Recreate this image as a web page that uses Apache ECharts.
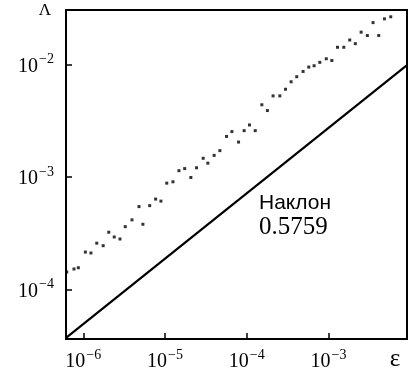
<!DOCTYPE html>
<html>
<head>
<meta charset="utf-8">
<script src="https://cdn.jsdelivr.net/npm/echarts@6.0.0/dist/echarts.min.js"></script>
<style>
    html, body { margin: 0; padding: 0; background: #fff; }
    #box { width: 411px; height: 372px; }
</style>
</head>
<body>
<div id="box"></div>
<script>
// измеренные точки (ε, Λ)
var epsData = [
    6.27e-7, 7.69e-7, 8.69e-7, 1.06e-6, 1.24e-6, 1.46e-6, 1.75e-6, 2.05e-6, 2.39e-6, 2.81e-6,
    3.26e-6, 3.94e-6, 4.80e-6, 5.36e-6, 6.49e-6, 7.67e-6, 8.91e-6, 1.05e-5, 1.25e-5, 1.48e-5,
    1.74e-5, 2.07e-5, 2.43e-5, 2.93e-5, 3.34e-5, 3.99e-5, 4.69e-5, 5.66e-5, 6.58e-5, 7.94e-5,
    9.29e-5, 1.08e-4, 1.27e-4, 1.53e-4, 1.79e-4, 2.10e-4, 2.54e-4, 2.98e-4, 3.49e-4, 4.09e-4,
    4.89e-4, 5.74e-4, 6.67e-4, 7.83e-4, 9.40e-4, 1.10e-3, 1.29e-3, 1.54e-3, 1.82e-3, 2.13e-3,
    2.51e-3, 2.99e-3, 3.51e-3, 4.12e-3, 4.84e-3, 5.78e-3
];
var lambdaData = [
    1.43e-4, 1.52e-4, 1.56e-4, 2.15e-4, 2.11e-4, 2.58e-4, 2.45e-4, 3.23e-4, 2.93e-4, 2.81e-4,
    3.62e-4, 4.16e-4, 5.46e-4, 3.80e-4, 5.57e-4, 6.37e-4, 6.11e-4, 8.83e-4, 9.08e-4, 1.14e-3,
    1.19e-3, 9.91e-4, 1.21e-3, 1.47e-3, 1.33e-3, 1.56e-3, 1.72e-3, 2.30e-3, 2.54e-3, 2.05e-3,
    2.59e-3, 2.91e-3, 2.59e-3, 4.40e-3, 3.91e-3, 5.28e-3, 5.28e-3, 6.05e-3, 7.05e-3, 7.82e-3,
    8.71e-3, 9.53e-3, 9.79e-3, 1.05e-2, 1.13e-2, 1.09e-2, 1.43e-2, 1.43e-2, 1.66e-2, 1.54e-2,
    1.95e-2, 1.82e-2, 2.37e-2, 1.82e-2, 2.56e-2, 2.67e-2
];
// прямая с наклоном 0.5759
var fitEps = [6.14e-7, 9.14e-3];
var fitLambda = [3.70e-5, 9.92e-3];

var xTicks = [1e-6, 1e-5, 1e-4, 1e-3];
var yTicks = [1e-4, 1e-3, 1e-2];
var xRange = [6.14e-7, 9.14e-3];
var yRange = [3.62e-5, 3.07e-2];

var xName = 'ε';
var yName = 'Λ';
var slopeTitle = 'Наклон';
var slopeValue = '0.5759';

var serif = 'Liberation Serif';
var sans = 'Liberation Sans';

function powLabel(v) {
    var e = Math.round(Math.log10(v));
    return '{a|10}{b|' + (e < 0 ? '\u2212' : '') + Math.abs(e) + '}';
}

var labelRich = {
    a: { fontSize: 20, lineHeight: 24, fontFamily: serif, color: '#000', verticalAlign: 'bottom' },
    b: { fontSize: 14, lineHeight: 14, fontFamily: serif, color: '#000', verticalAlign: 'top', padding: [0, 0, 0, 1] }
};

function pairs(xs, ys) {
    return xs.map(function (x, i) { return [x, ys[i]]; });
}

var chart = echarts.init(document.getElementById('box'), null, { renderer: 'canvas' });

var option = {
    animation: false,
    grid: {
        left: 66,
        right: 4,
        top: 10,
        bottom: 33,
        show: true,
        borderColor: '#000',
        borderWidth: 2,
        backgroundColor: 'transparent'
    },
    xAxis: {
        type: 'log',
        logBase: 10,
        min: xRange[0],
        max: xRange[1],
        axisLine: { show: true, onZero: false, lineStyle: { color: '#000', width: 2 } },
        axisTick: { show: true, inside: true, length: 6, customValues: xTicks, lineStyle: { color: '#000', width: 1.5 } },
        axisLabel: { margin: 9, customValues: xTicks, formatter: powLabel, rich: labelRich },
        splitLine: { show: false },
        minorTick: { show: false }
    },
    yAxis: {
        type: 'log',
        logBase: 10,
        min: yRange[0],
        max: yRange[1],
        axisLine: { show: true, onZero: false, lineStyle: { color: '#000', width: 2 } },
        axisTick: { show: true, inside: true, length: 6, customValues: yTicks, lineStyle: { color: '#000', width: 1.5 } },
        axisLabel: { margin: 12, customValues: yTicks, formatter: powLabel, rich: labelRich },
        splitLine: { show: false },
        minorTick: { show: false }
    },
    graphic: [
        {
            type: 'text',
            x: 45,
            y: 11,
            style: { text: yName, fontFamily: serif, fontSize: 17, fill: '#000', align: 'center', verticalAlign: 'middle' }
        },
        {
            type: 'text',
            x: 395,
            y: 359,
            style: { text: xName, fontFamily: serif, fontSize: 25, fill: '#000', align: 'center', verticalAlign: 'middle' }
        },
        {
            type: 'text',
            x: 259,
            y: 203,
            style: { text: slopeTitle, fontFamily: sans, fontSize: 21, fill: '#000', align: 'left', verticalAlign: 'middle' }
        },
        {
            type: 'text',
            x: 259,
            y: 227,
            style: { text: slopeValue, fontFamily: serif, fontSize: 25, fill: '#000', align: 'left', verticalAlign: 'middle' }
        }
    ],
    series: [
        {
            name: 'points',
            type: 'scatter',
            symbol: 'rect',
            symbolSize: 3,
            itemStyle: { color: '#000' },
            data: pairs(epsData, lambdaData)
        },
        {
            name: 'fit',
            type: 'line',
            symbol: 'none',
            lineStyle: { color: '#000', width: 2.2 },
            data: pairs(fitEps, fitLambda)
        }
    ]
};

chart.setOption(option);
</script>
</body>
</html>
